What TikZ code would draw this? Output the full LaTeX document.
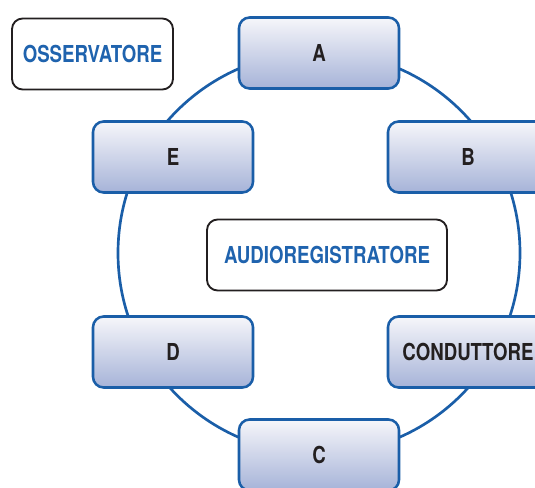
\documentclass[tikz,border=0pt]{standalone}
\usepackage{fontspec}
\setmainfont{TeX Gyre Heros}[FakeStretch=0.8]
\definecolor{ringblue}{HTML}{1A5EA8}
\definecolor{txtblue}{HTML}{1F63AE}
\definecolor{boxtop}{HTML}{F6F6FA}
\definecolor{boxbot}{HTML}{A6B3D8}
\definecolor{ink}{HTML}{231F20}
\begin{document}
\begin{tikzpicture}[x=0.75pt,y=-0.75pt,
  rolebox/.style={rectangle,rounded corners=8,draw=ringblue,line width=1.9pt,
    top color=boxtop,bottom color=boxbot,minimum width=160*0.75pt,
    minimum height=71*0.75pt,font=\bfseries\fontsize{17.5}{20}\selectfont,text=ink},
  plainbox/.style={rectangle,rounded corners=8,draw=ink,line width=1.4pt,fill=white,
    minimum height=71*0.75pt,font=\bfseries\fontsize{17.5}{20}\selectfont,text=txtblue}]
\useasboundingbox (0,0) rectangle (535,488);
\clip (0,0) rectangle (535,488);

%ring
\coordinate (o) at (319,253);
\draw[ringblue,line width=2pt] (o) circle (201);

%roles on the ring
\node[rolebox] (a) at (319,53) {A};
\node[rolebox] (b) at (468,157) {B};
\node[rolebox] (e) at (173,157) {E};
\node[rolebox] (d) at (173,352) {D};
\node[rolebox] (cond) at (468,352) {CONDUTTORE};
\node[rolebox] (c) at (319,455) {C};

%outside and centre
\node[plainbox,minimum width=161*0.75pt] (oss) at (92.5,54) {OSSERVATORE};
\node[plainbox,minimum width=240*0.75pt] (audio) at (327,255) {AUDIOREGISTRATORE};

\end{tikzpicture}
\end{document}
